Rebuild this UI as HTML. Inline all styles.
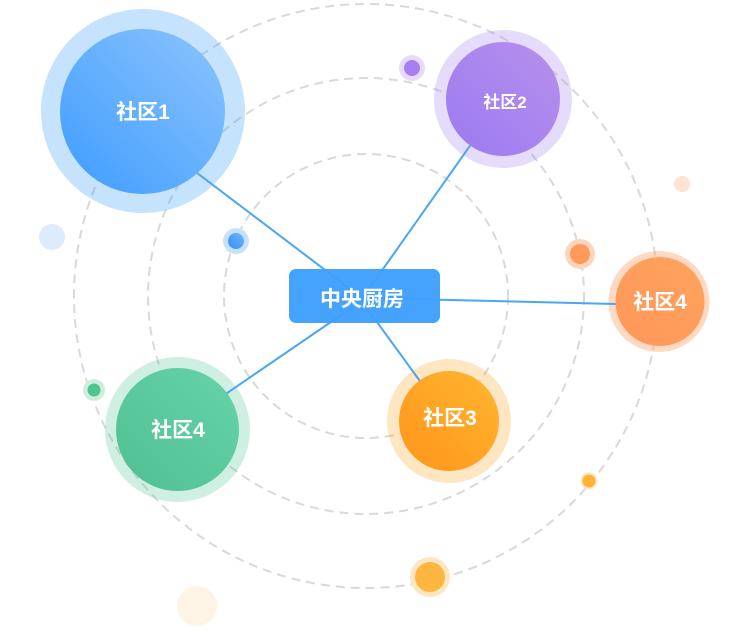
<!DOCTYPE html>
<html>
<head>
<meta charset="utf-8">
<style>
  html, body { margin: 0; padding: 0; background: #ffffff; }
  body { width: 750px; height: 630px; overflow: hidden; }
  svg { display: block; }
  text { font-family: "Liberation Sans", "Noto Sans CJK SC", sans-serif; font-weight: bold; fill: #ffffff; }
</style>
</head>
<body>
<svg width="750" height="630" viewBox="0 0 750 630" xmlns="http://www.w3.org/2000/svg">
  <defs>
    <linearGradient id="gBlue" x1="1" y1="0" x2="0" y2="1">
      <stop offset="0" stop-color="#8cc5fd"/>
      <stop offset="1" stop-color="#3d9cfe"/>
    </linearGradient>
    <linearGradient id="gPurple" x1="1" y1="0" x2="0" y2="1">
      <stop offset="0" stop-color="#b790ec"/>
      <stop offset="1" stop-color="#9b7af1"/>
    </linearGradient>
    <linearGradient id="gOrange" x1="1" y1="0" x2="0" y2="1">
      <stop offset="0" stop-color="#ffa35f"/>
      <stop offset="1" stop-color="#ff9758"/>
    </linearGradient>
    <linearGradient id="gAmber" x1="1" y1="0" x2="0" y2="1">
      <stop offset="0" stop-color="#ffb630"/>
      <stop offset="1" stop-color="#ff941c"/>
    </linearGradient>
    <linearGradient id="gGreen" x1="1" y1="0" x2="0" y2="1">
      <stop offset="0" stop-color="#66d4a8"/>
      <stop offset="1" stop-color="#50bf92"/>
    </linearGradient>
    <linearGradient id="gSmallBlue" x1="1" y1="0" x2="0" y2="1">
      <stop offset="0" stop-color="#6cb5fb"/>
      <stop offset="1" stop-color="#3590f5"/>
    </linearGradient>
  </defs>

  <!-- decorative dots -->
  <circle cx="52" cy="237" r="13" fill="#dcecfc"/>
  <circle cx="682" cy="184" r="8" fill="#fde3d2"/>
  <circle cx="197" cy="606" r="20" fill="#fef4e6"/>

  <!-- dashed orbits -->
  <g fill="none" stroke="#d9d9d9" stroke-width="2" stroke-dasharray="9 6">
    <circle cx="366" cy="296" r="142"/>
    <circle cx="366" cy="296" r="218"/>
    <circle cx="366" cy="296" r="292"/>
  </g>

  <!-- small orbit dots -->
  <circle cx="236" cy="241" r="13" fill="#c7e2fc"/>
  <circle cx="236" cy="241" r="8" fill="url(#gSmallBlue)"/>

  <circle cx="412" cy="68" r="13" fill="#e6dcf9"/>
  <circle cx="412" cy="68" r="8" fill="#a87ff0"/>

  <circle cx="580" cy="254" r="15" fill="#fdd5bc"/>
  <circle cx="580" cy="254" r="10" fill="#ff9a5a"/>

  <circle cx="94" cy="390" r="11" fill="#cdeedd"/>
  <circle cx="94" cy="390" r="6.5" fill="#4fc48f"/>

  <circle cx="589" cy="481" r="8.5" fill="#fde7c3"/>
  <circle cx="589" cy="481" r="6.5" fill="#ffb23a"/>

  <circle cx="430" cy="577" r="20" fill="#fde7c3"/>
  <circle cx="430" cy="577" r="15" fill="#ffb640"/>

  <!-- halos -->
  <circle cx="143" cy="111" r="102" fill="#3c9dfc" fill-opacity="0.29"/>
  <circle cx="503" cy="99" r="69" fill="#9f7ef0" fill-opacity="0.27"/>
  <circle cx="659" cy="301.5" r="50.5" fill="#ff9a5c" fill-opacity="0.38"/>
  <circle cx="449" cy="421" r="62" fill="#ffa726" fill-opacity="0.28"/>
  <circle cx="177.5" cy="429.5" r="72.5" fill="#55c797" fill-opacity="0.29"/>

  <!-- connectors -->
  <g stroke="#4aa5f6" stroke-width="2" fill="none">
    <line x1="143" y1="132" x2="366" y2="301"/>
    <line x1="503" y1="99" x2="364" y2="296"/>
    <line x1="659" y1="305" x2="366" y2="298"/>
    <line x1="449" y1="421" x2="358" y2="296"/>
    <line x1="177.5" y1="427" x2="366" y2="298"/>
  </g>

  <!-- main nodes -->
  <circle cx="142.5" cy="111.5" r="82.5" fill="url(#gBlue)"/>
  <text x="143" y="119" font-size="21" text-anchor="middle">社区1</text>

  <circle cx="503" cy="99" r="57" fill="url(#gPurple)"/>
  <text x="505" y="108" font-size="17" text-anchor="middle">社区2</text>

  <circle cx="660" cy="301.5" r="44.5" fill="url(#gOrange)"/>
  <text x="660" y="309" font-size="21" text-anchor="middle">社区4</text>

  <circle cx="449" cy="421" r="50" fill="url(#gAmber)"/>
  <text x="450" y="425" font-size="21" text-anchor="middle">社区3</text>

  <circle cx="177.5" cy="429.5" r="61.5" fill="url(#gGreen)"/>
  <text x="178" y="437" font-size="21" text-anchor="middle">社区4</text>

  <!-- central box -->
  <rect x="289" y="269" width="151" height="54" rx="7" ry="7" fill="#3d9ffe" fill-opacity="0.96"/>
  <text x="362" y="306" font-size="21" text-anchor="middle">中央厨房</text>
</svg>
</body>
</html>
